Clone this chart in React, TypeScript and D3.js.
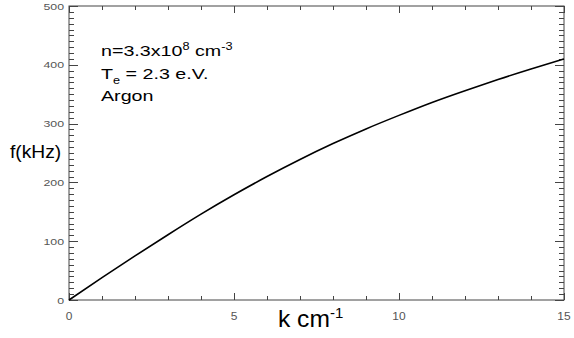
import React from "react";
import * as d3 from "d3";

const kValues = [0, 1, 2, 3, 4, 5, 6, 7, 8, 9, 10, 11, 12, 13, 14, 15];
const fValues = [0, 38, 75, 111, 146, 179, 210, 239, 266, 291, 314, 336, 356, 375, 393, 410];
const xTickLabels = [0, 5, 10, 15];
const yTickLabels = [0, 100, 200, 300, 400, 500];

const W = 574;
const H = 338;
const FONT = "'Liberation Sans', Arial, Helvetica, sans-serif";

export default function App() {
  const x = d3.scaleLinear().domain([0, 15]).range([69, 564]);
  const y = d3.scaleLinear().domain([0, 500]).range([300, 6]);
  const data = kValues.map((k, i) => [k, fValues[i]] as [number, number]);
  const line = d3
    .line<[number, number]>()
    .x((d) => x(d[0]))
    .y((d) => y(d[1]))
    .curve(d3.curveNatural);

  const xMinor = d3.range(0, 15.01, 1);
  const yMinor = d3.range(0, 500.1, 10);
  const axisColor = "#444";
  const [x0, x1] = x.range();
  const [y0, y1] = y.range();

  return (
    <svg
      width={W}
      height={H}
      style={{ position: "absolute", left: 0, top: 0, background: "#fff" }}
    >
      <rect x={0} y={0} width={W} height={H} fill="#fff" />
      {/* frame */}
      <rect
        x={x0}
        y={y1}
        width={x1 - x0}
        height={y0 - y1}
        fill="none"
        stroke={axisColor}
        strokeWidth={1}
      />
      {/* x ticks bottom and top */}
      {xMinor.map((k) => {
        const major = k % 5 === 0;
        const len = major ? 7 : 4;
        const px = Math.round(x(k)) + 0.5;
        return (
          <g key={"xt" + k}>
            <line x1={px} x2={px} y1={y0} y2={y0 - len} stroke={axisColor} />
            <line x1={px} x2={px} y1={y1} y2={y1 + len} stroke={axisColor} />
          </g>
        );
      })}
      {/* y ticks left and right */}
      {yMinor.map((v) => {
        const major = Math.abs(v % 100) < 1e-6;
        const len = major ? 9 : 5;
        const py = Math.round(y(v)) + 0.5;
        return (
          <g key={"yt" + v}>
            <line x1={x0} x2={x0 + len} y1={py} y2={py} stroke={axisColor} />
            <line x1={x1} x2={x1 - len} y1={py} y2={py} stroke={axisColor} />
          </g>
        );
      })}
      {/* x tick labels */}
      {xTickLabels.map((k) => (
        <text
          key={"xl" + k}
          transform={`translate(${x(k)},320) scale(1.2,1)`}
          textAnchor="middle"
          fontFamily={FONT}
          fontSize={10}
          fill="#555"
        >
          {k}
        </text>
      ))}
      {/* y tick labels */}
      {yTickLabels.map((v) => (
        <text
          key={"yl" + v}
          transform={`translate(64,${y(v) + 3.5}) scale(1.3,1)`}
          textAnchor="end"
          fontFamily={FONT}
          fontSize={9.5}
          fill="#555"
        >
          {v}
        </text>
      ))}
      {/* curve */}
      <path d={line(data) || ""} fill="none" stroke="#000" strokeWidth={1.6} />
      {/* axis titles */}
      <text
        transform="translate(278,327) scale(1.07,1)"
        fontFamily={FONT}
        fontSize={23}
        fill="#000"
      >
        k cm
        <tspan fontSize={14} dy={-9}>
          -1
        </tspan>
      </text>
      <text
        transform="translate(10,158) scale(1.1,1)"
        fontFamily={FONT}
        fontSize={17.5}
        fill="#000"
      >
        f(kHz)
      </text>
      {/* annotations */}
      <g fontFamily={FONT} fill="#000">
        <text transform="translate(101,56) scale(1.27,1)" fontSize={15.5}>
          n=3.3x10
          <tspan fontSize={10} dy={-6}>
            8
          </tspan>
          <tspan dy={6}> cm</tspan>
          <tspan fontSize={10} dy={-6}>
            -3
          </tspan>
        </text>
        <text transform="translate(101,78.5) scale(1.27,1)" fontSize={15.5}>
          T
          <tspan fontSize={10} dy={5}>
            e
          </tspan>
          <tspan dy={-5}> = 2.3 e.V.</tspan>
        </text>
        <text transform="translate(101,101) scale(1.27,1)" fontSize={15.5}>
          Argon
        </text>
      </g>
    </svg>
  );
}
